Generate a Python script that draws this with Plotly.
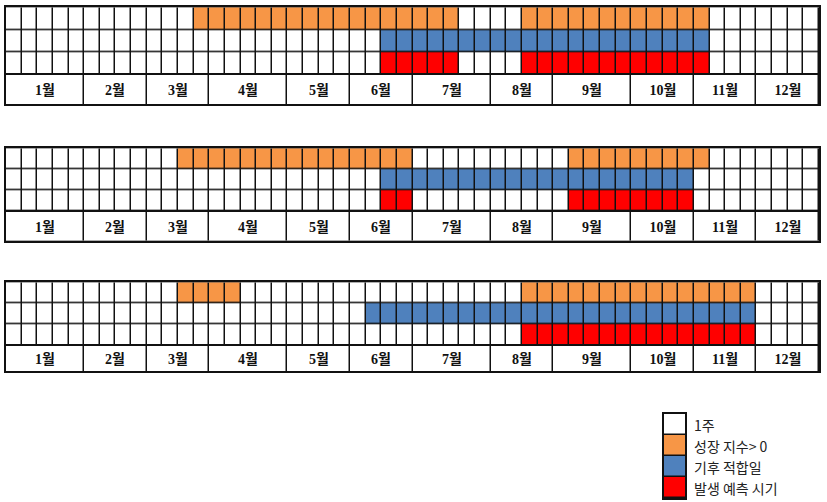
import plotly.graph_objects as go

# ---------------- data ----------------
WEEKS = 52
month_labels = ["1월", "2월", "3월", "4월", "5월", "6월",
                "7월", "8월", "9월", "10월", "11월", "12월"]
month_weeks = [5, 4, 4, 5, 4, 4, 5, 4, 5, 4, 4, 4]

legend_labels = ["1주", "성장 지수> 0", "기후 적합일", "발생 예측 시기"]
legend_values = [0, 1, 2, 3]

# week ranges (1-based, inclusive) for each row of each panel
panel1_growth = [(13, 29), (34, 45)]
panel1_climate = [(25, 45)]
panel1_forecast = [(25, 29), (34, 45)]

panel2_growth = [(12, 26), (37, 45)]
panel2_climate = [(25, 44)]
panel2_forecast = [(25, 26), (37, 44)]

panel3_growth = [(12, 15), (34, 48)]
panel3_climate = [(24, 48)]
panel3_forecast = [(34, 48)]

panels = [
    [panel1_growth, panel1_climate, panel1_forecast],
    [panel2_growth, panel2_climate, panel2_forecast],
    [panel3_growth, panel3_climate, panel3_forecast],
]

# ---------------- style ----------------
W, H = 827, 502
colors = ["#FFFFFF", "#F79646", "#4F81BD", "#FF0000"]
colorscale = [[0, colors[0]], [1 / 3, colors[1]], [2 / 3, colors[2]], [1, colors[3]]]
LINE = "#111111"
GAP = 1.5
PX_X = (6, 819)
panel_px = [(7.3, 75.0, 104.0), (148.3, 211.7, 240.7), (282.3, 346.0, 371.0)]
legend_px_x = (663.5, 685.0)
legend_px_y = (414.0, 498.0)


def yd(top, bottom):
    return [1 - bottom / H, 1 - top / H]


def build_row(ranges, value):
    row = [0] * WEEKS
    for a, b in ranges:
        for w in range(a, b + 1):
            row[w - 1] = value
    return row


month_edges = [0]
for n in month_weeks:
    month_edges.append(month_edges[-1] + n)

fig = go.Figure()
layout = dict(
    width=W, height=H, margin=dict(l=0, r=0, t=0, b=0),
    paper_bgcolor="white", plot_bgcolor=LINE, showlegend=False,
)

axis_common = dict(showline=True, mirror=True, linecolor=LINE, linewidth=1.5,
                   showticklabels=False, showgrid=False, zeroline=False,
                   ticks="", fixedrange=True)

for i, rows in enumerate(panels):
    top, mid, bot = panel_px[i]
    a_cell = 2 * i + 1
    a_lab = 2 * i + 2
    z = [build_row(r, k + 1) for k, r in enumerate(rows)]
    fig.add_trace(go.Heatmap(
        z=z, x=list(range(WEEKS + 1)), y=[0, 1, 2],
        colorscale=colorscale, zmin=0, zmax=3, showscale=False,
        xgap=GAP, ygap=GAP, hoverinfo="skip",
        xaxis=f"x{a_cell}", yaxis=f"y{a_cell}"))
    fig.add_trace(go.Heatmap(
        z=[[0] * len(month_labels)], x=month_edges, y=[0],
        text=[month_labels], texttemplate="<b>%{text}</b>",
        textfont=dict(family="Liberation Serif, Noto Sans CJK KR", size=14, color="#111"),
        colorscale=colorscale, zmin=0, zmax=3, showscale=False,
        xgap=GAP, ygap=0, hoverinfo="skip",
        xaxis=f"x{a_lab}", yaxis=f"y{a_lab}"))
    for a, (t, b), yr in ((a_cell, (top, mid), [2.5, -0.5]), (a_lab, (mid, bot), [-0.5, 0.5])):
        layout[f"xaxis{a}"] = dict(axis_common, domain=[PX_X[0] / W, PX_X[1] / W],
                                   range=[0, WEEKS], anchor=f"y{a}")
        layout[f"yaxis{a}"] = dict(axis_common, domain=yd(t, b), range=yr, anchor=f"x{a}")

# legend
fig.add_trace(go.Heatmap(
    z=[[v] for v in legend_values], x=[0, 1], y=list(range(len(legend_values))),
    colorscale=colorscale, zmin=0, zmax=3, showscale=False,
    xgap=0, ygap=GAP, hoverinfo="skip", xaxis="x7", yaxis="y7"))
layout["xaxis7"] = dict(axis_common, domain=[legend_px_x[0] / W, legend_px_x[1] / W],
                        range=[0, 1], anchor="y7")
layout["yaxis7"] = dict(axis_common, domain=yd(*legend_px_y), range=[3.5, -0.5], anchor="x7")

annotations = []
for k, lab in enumerate(legend_labels):
    annotations.append(dict(
        x=692 / W, xref="paper", y=k, yref="y7", text=lab, showarrow=False,
        xanchor="left", yanchor="middle",
        font=dict(family="Noto Sans CJK KR", size=14, color="#222")))
layout["annotations"] = annotations

fig.update_layout(**layout)
fig.write_html(
    "out.html",
    config={"displayModeBar": False},
    post_script="document.body.style.margin='0';document.body.style.overflow='hidden';",
)
